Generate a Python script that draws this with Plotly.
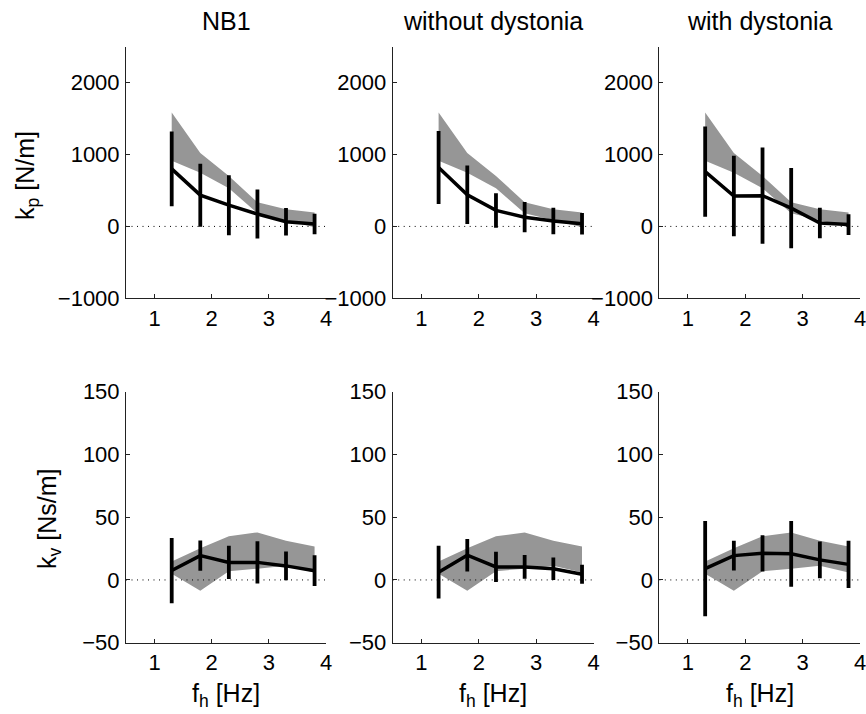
import plotly.graph_objects as go

# ---------------- data ----------------
freq = [1.3, 1.8, 2.3, 2.8, 3.3, 3.8]
col_titles = ["NB1", "without dystonia", "with dystonia"]

# model band (same in every column)
kp_band_upper = [1584, 1020, 702, 337, 240, 194]
kp_band_lower = [914, 748, 530, 184, 92, -10]
kv_band_upper = [14.8, 25.3, 34.8, 37.9, 31.3, 26.6]
kv_band_lower = [5.0, -8.6, 7.0, 9.0, 11.3, 6.0]

# measured means and standard deviations
kp_mean_nb1 = [800, 435, 295, 172, 66, 33]
kp_sd_nb1 = [521, 438, 417, 341, 191, 143]
kp_mean_without = [820, 440, 223, 128, 74, 38]
kp_sd_without = [507, 408, 240, 210, 184, 150]
kp_mean_with = [762, 423, 428, 255, 46, 25]
kp_sd_with = [627, 560, 670, 558, 212, 145]

kv_mean_nb1 = [7.5, 19.4, 14.0, 14.0, 11.2, 7.4]
kv_sd_nb1 = [26.0, 12.0, 13.3, 16.9, 11.4, 12.2]
kv_mean_without = [6.2, 19.7, 10.4, 10.4, 8.9, 4.6]
kv_sd_without = [21.0, 12.9, 12.0, 9.4, 8.9, 7.6]
kv_mean_with = [9.0, 19.4, 21.2, 20.8, 16.0, 12.4]
kv_sd_with = [37.9, 11.8, 14.4, 26.2, 14.6, 18.9]

x_ticks = [1, 2, 3, 4]
kp_ticks = [-1000, 0, 1000, 2000]
kv_ticks = [-50, 0, 50, 100, 150]
x_range = [0.5, 4]
kp_range = [-1000, 2500]
kv_range = [-50, 150]

# ---------------- layout geometry ----------------
W, H = 866, 714
col_px = [(126, 326), (392.7, 593.5), (659.3, 860)]
row_px = [(46.7, 298.3), (391.7, 642.7)]  # top, bottom in pixels

FONT = "Liberation Sans, Arial, Helvetica, sans-serif"
FS = 22        # tick labels
FS_LBL = 25    # titles and axis labels
AX_COLOR = "#222222"
BAND = "#969696"

fig = go.Figure()

rows = [
    (kp_band_upper, kp_band_lower,
     [(kp_mean_nb1, kp_sd_nb1), (kp_mean_without, kp_sd_without), (kp_mean_with, kp_sd_with)],
     kp_range, kp_ticks),
    (kv_band_upper, kv_band_lower,
     [(kv_mean_nb1, kv_sd_nb1), (kv_mean_without, kv_sd_without), (kv_mean_with, kv_sd_with)],
     kv_range, kv_ticks),
]

idx = 0
for r, (bu, bl, series, yr, yt) in enumerate(rows):
    for c in range(3):
        idx += 1
        xa = "x" if idx == 1 else f"x{idx}"
        ya = "y" if idx == 1 else f"y{idx}"
        mean, sd = series[c]
        # band
        fig.add_trace(go.Scatter(
            x=freq + freq[::-1], y=bu + bl[::-1], fill="toself",
            fillcolor=BAND, line=dict(width=0), mode="lines",
            hoverinfo="skip", showlegend=False, xaxis=xa, yaxis=ya))
        # zero dotted line
        fig.add_trace(go.Scatter(
            x=x_range, y=[0, 0], mode="lines",
            line=dict(color="black", width=1, dash="1px,4.5px"),
            showlegend=False, hoverinfo="skip", xaxis=xa, yaxis=ya))
        # mean with error bars
        fig.add_trace(go.Scatter(
            x=freq, y=mean, mode="lines",
            line=dict(color="black", width=3.5),
            error_y=dict(type="data", array=sd, visible=True,
                         color="black", thickness=3.8, width=0),
            showlegend=False, xaxis=xa, yaxis=ya))

        x0, x1 = col_px[c]
        t, b = row_px[r]
        axkw = dict(showline=True, linecolor=AX_COLOR, linewidth=1,
                    ticks="inside", ticklen=4, tickcolor=AX_COLOR, tickwidth=1,
                    showgrid=False, zeroline=False, mirror=False,
                    automargin=False, ticklabeloverflow="allow",
                    tickfont=dict(family=FONT, size=FS, color="black"))
        fig.layout[("xaxis" if idx == 1 else f"xaxis{idx}")] = dict(
            domain=[x0 / W, x1 / W], anchor=ya, range=x_range,
            tickvals=x_ticks, ticklabelstandoff=0, **axkw)
        fig.layout[("yaxis" if idx == 1 else f"yaxis{idx}")] = dict(
            domain=[1 - b / H, 1 - t / H], anchor=xa, range=yr,
            tickvals=yt, ticklabelstandoff=1, **axkw)

annotations = []
for c in range(3):
    x0, x1 = col_px[c]
    xc = (x0 + x1) / 2 / W
    annotations.append(dict(text=col_titles[c], x=xc, y=1 - 21 / H,
                            xref="paper", yref="paper", showarrow=False,
                            xanchor="center", yanchor="middle",
                            font=dict(family=FONT, size=FS_LBL, color="black")))
    annotations.append(dict(text="f<sub>h</sub> [Hz]", x=xc, y=1 - 695 / H,
                            xref="paper", yref="paper", showarrow=False,
                            xanchor="center", yanchor="middle",
                            font=dict(family=FONT, size=FS_LBL, color="black")))

annotations.append(dict(text="k<sub>p</sub> [N/m]", x=27 / W,
                        y=1 - 176 / H, xref="paper", yref="paper",
                        showarrow=False, textangle=-90,
                        xanchor="center", yanchor="middle",
                        font=dict(family=FONT, size=FS_LBL, color="black")))
annotations.append(dict(text="k<sub>v</sub> [Ns/m]", x=49 / W,
                        y=1 - 519 / H, xref="paper", yref="paper",
                        showarrow=False, textangle=-90,
                        xanchor="center", yanchor="middle",
                        font=dict(family=FONT, size=FS_LBL, color="black")))

fig.update_layout(width=W, height=H,
                  margin=dict(l=0, r=0, t=0, b=0, pad=0, autoexpand=False),
                  paper_bgcolor="white", plot_bgcolor="white",
                  annotations=annotations, showlegend=False)

fig.write_html("out.html")
